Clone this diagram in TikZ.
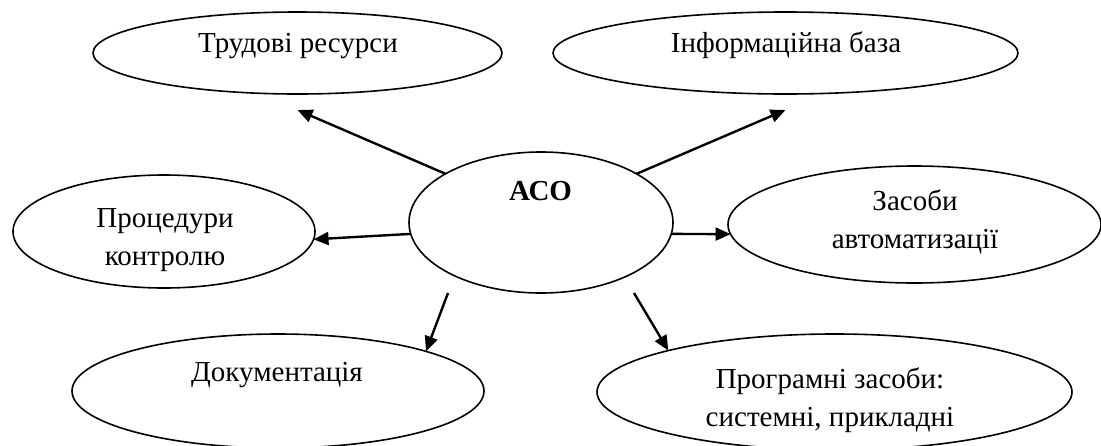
\documentclass[tikz,border=0pt]{standalone}
\usepackage{fontspec}
\setmainfont{Liberation Serif}
\usetikzlibrary{arrows.meta, shapes.geometric}

\begin{document}
\begin{tikzpicture}[x=1pt, y=-1pt,
        blob/.style={ellipse, draw, line width=1.6pt, inner sep=0pt, outer sep=0pt},
        txt/.style={align=center, inner sep=0pt, font=\fontsize{29}{38}\selectfont},
        arr/.style={-{Triangle[length=15pt, width=13pt]}, line width=2.4pt}]
        \useasboundingbox (0,0) rectangle (1101,445);

        \node[blob, minimum width=409pt, minimum height=82pt] (trud) at (297.5,53) {};
        \node[blob, minimum width=465pt, minimum height=82pt] (info) at (785.5,53) {};
        \node[blob, minimum width=264pt, minimum height=141pt] (aso) at (541,222.5) {};
        \node[blob, minimum width=302pt, minimum height=113pt] (proc) at (164,231.5) {};
        \node[blob, minimum width=373pt, minimum height=117pt] (zasob) at (914.5,224.5) {};
        \node[blob, minimum width=412pt, minimum height=114pt] (doc) at (278,391) {};
        \node[blob, minimum width=475pt, minimum height=116pt] (prog) at (834.5,392) {};

        \node[txt, anchor=base] (trud-t) at (298,52) {Трудові ресурси};
        \node[txt, anchor=base] (info-t) at (786,52) {Інформаційна база};
        \node[txt, anchor=base] (aso-t) at (540.5,200) {\bfseries АСО};
        \node[txt, anchor=north] (proc-t) at (165,208.5) {Процедури\\контролю};
        \node[txt, anchor=north] (zasob-t) at (915,190) {Засоби\\автоматизації};
        \node[txt, anchor=base] (doc-t) at (277,381) {Документація};
        \node[txt, anchor=north] (prog-t) at (830,368) {Програмні засоби:\\системні, прикладні};

        \path[arr] (aso.153) edge ([yshift=-16pt]trud.south)
                   (aso.27) edge ([yshift=-16pt]info.south)
                   (aso.185) edge (proc.-3)
                   (aso.-5) edge (zasob.183)
                   ([xshift=-93pt]aso.south) edge (doc.15)
                   ([xshift=93pt]aso.south) edge (prog.166);
    \end{tikzpicture}
\end{document}
